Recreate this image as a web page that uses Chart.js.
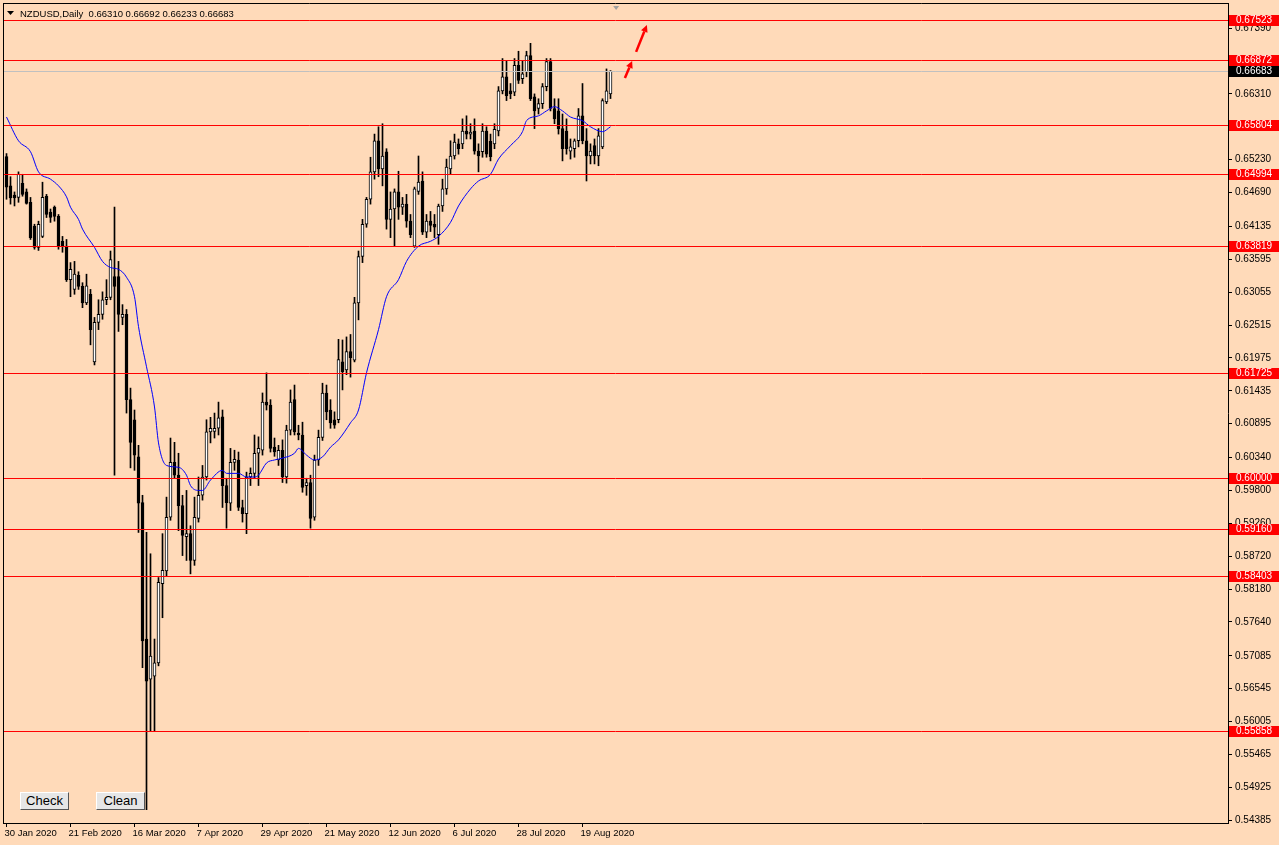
<!DOCTYPE html>
<html>
<head>
<meta charset="utf-8">
<script src="https://cdn.jsdelivr.net/npm/chart.js@4.4.1/dist/chart.umd.min.js"></script>
<style>
html, body { margin: 0; padding: 0; background: #ffdab9; }
#wrap { position: relative; width: 1279px; height: 845px; overflow: hidden; }
canvas { display: block; }
.btn { position: absolute; top: 792px; width: 47px; height: 16px; background: #e6e6e6;
  border: 1px solid; border-color: #ffffff #555555 #555555 #ffffff;
  font: 13px "Liberation Sans", Arial, sans-serif; color: #000; text-align: center; line-height: 16px; }
</style>
</head>
<body>
<div id="wrap">
  <canvas id="chart" width="1279" height="845"></canvas>
  <div class="btn" style="left:20px">Check</div>
  <div class="btn" style="left:96px">Clean</div>
</div>
<script>
// NZDUSD daily candles, 30 Jan 2020 .. end of Aug 2020
const opens = [0.6528,0.6480,0.6465,0.6461,0.6484,0.6470,0.6453,0.6414,0.6379,0.6397,
  0.6463,0.6437,0.6445,0.6430,0.6389,0.6381,0.6326,0.6310,0.6333,0.6315,
  0.6288,0.6302,0.6191,0.6256,0.6269,0.6293,0.6297,0.6331,0.6331,0.6264,
  0.6269,0.6129,0.6096,0.6035,0.5960,0.5736,0.5670,0.5675,0.5697,0.5827,
  0.5848,0.5936,0.6026,0.6005,0.5955,0.5904,0.5909,0.5865,0.5934,0.5972,
  0.6002,0.6076,0.6077,0.6082,0.6101,0.5988,0.5959,0.6026,0.6030,0.5952,
  0.5942,0.6002,0.6008,0.6041,0.6046,0.6125,0.6120,0.6051,0.6030,0.6046,
  0.6002,0.6079,0.6129,0.6074,0.6071,0.5988,0.5993,0.5936,0.6030,0.6067,
  0.6140,0.6112,0.6096,0.6096,0.6191,0.6178,0.6208,0.6194,0.6288,0.6364,
  0.6417,0.6458,0.6503,0.6554,0.6508,0.6536,0.6425,0.6442,0.6470,0.6445,
  0.6450,0.6422,0.6381,0.6471,0.6488,0.6404,0.6422,0.6417,0.6400,0.6447,
  0.6475,0.6508,0.6529,0.6549,0.6549,0.6570,0.6565,0.6570,0.6537,0.6536,
  0.6570,0.6553,0.6549,0.6570,0.6636,0.6659,0.6636,0.6634,0.6678,0.6656,
  0.6667,0.6694,0.6626,0.6607,0.6615,0.6643,0.6684,0.6607,0.6603,0.6574,
  0.6570,0.6537,0.6541,0.6554,0.6595,0.6554,0.6529,0.6546,0.6529,0.6544,
  0.6618,0.66310];
const highs = [0.6533,0.6495,0.6470,0.6503,0.6499,0.6475,0.6461,0.6417,0.6422,0.6486,
  0.6466,0.6442,0.6447,0.6433,0.6397,0.6392,0.6354,0.6356,0.6339,0.6321,
  0.6335,0.6310,0.6264,0.6293,0.6306,0.6326,0.6373,0.6445,0.6356,0.6285,
  0.6277,0.6148,0.6112,0.6054,0.5972,0.5911,0.5876,0.5736,0.5837,0.5909,
  0.5969,0.6066,0.6059,0.6041,0.5972,0.5980,0.5922,0.5969,0.6002,0.6021,
  0.6096,0.6100,0.6107,0.6125,0.6112,0.6000,0.6049,0.6046,0.6043,0.5964,
  0.6010,0.6017,0.6071,0.6068,0.6140,0.6173,0.6129,0.6066,0.6054,0.6063,
  0.6087,0.6145,0.6153,0.6087,0.6092,0.6000,0.6005,0.6038,0.6079,0.6156,
  0.6153,0.6129,0.6109,0.6228,0.6227,0.6232,0.6236,0.6297,0.6373,0.6425,
  0.6461,0.6527,0.6565,0.6577,0.6582,0.6541,0.6470,0.6475,0.6504,0.6461,
  0.6466,0.6433,0.6478,0.6529,0.6503,0.6433,0.6438,0.6433,0.6450,0.6491,
  0.6524,0.6554,0.6565,0.6557,0.6590,0.6595,0.6582,0.6590,0.6549,0.6582,
  0.6577,0.6565,0.6582,0.6643,0.6689,0.6686,0.6648,0.6689,0.6701,0.6686,
  0.6701,0.6714,0.6631,0.6623,0.6648,0.6689,0.6689,0.6623,0.6623,0.6598,
  0.6590,0.6557,0.6557,0.6607,0.6648,0.6574,0.6549,0.6557,0.6574,0.6623,
  0.6672,0.66692];
const lows = [0.6458,0.6450,0.6447,0.6453,0.6463,0.6450,0.6392,0.6376,0.6374,0.6395,
  0.6428,0.6420,0.6422,0.6376,0.6371,0.6323,0.6298,0.6302,0.6310,0.6280,
  0.6285,0.6219,0.6186,0.6244,0.6261,0.6285,0.6293,0.6005,0.6241,0.6252,
  0.6107,0.6017,0.6013,0.5911,0.5689,0.5456,0.5585,0.5585,0.5692,0.5771,
  0.5840,0.5931,0.6000,0.5914,0.5873,0.5865,0.5843,0.5857,0.5928,0.5964,
  0.5997,0.6058,0.6066,0.6071,0.5952,0.5918,0.5947,0.6013,0.5947,0.5928,
  0.5909,0.5988,0.6000,0.5988,0.6038,0.6112,0.6043,0.6036,0.6021,0.5993,
  0.5992,0.6071,0.6071,0.6063,0.5977,0.5972,0.5918,0.5931,0.6021,0.6062,
  0.6096,0.6082,0.6082,0.6091,0.6145,0.6170,0.6166,0.6191,0.6260,0.6354,
  0.6412,0.6450,0.6491,0.6495,0.6480,0.6409,0.6395,0.6381,0.6425,0.6433,
  0.6412,0.6395,0.6379,0.6466,0.6400,0.6395,0.6405,0.6395,0.6384,0.6438,
  0.6466,0.6499,0.6524,0.6532,0.6541,0.6557,0.6557,0.6532,0.6503,0.6527,
  0.6527,0.6521,0.6541,0.6562,0.6631,0.6620,0.6623,0.6628,0.6648,0.6648,
  0.6659,0.6620,0.6574,0.6598,0.6607,0.6636,0.6603,0.6582,0.6565,0.6521,
  0.6532,0.6524,0.6527,0.6544,0.6549,0.6488,0.6516,0.6516,0.6513,0.6541,
  0.6615,0.66233];
const closes = [0.6478,0.6460,0.6460,0.6499,0.6466,0.6451,0.6395,0.6379,0.6417,0.6461,
  0.6433,0.6428,0.6430,0.6381,0.6381,0.6326,0.6343,0.6335,0.6315,0.6288,
  0.6316,0.6244,0.6256,0.6269,0.6293,0.6297,0.6359,0.6315,0.6269,0.6269,
  0.6129,0.6059,0.6038,0.5959,0.5733,0.5667,0.5708,0.5697,0.5829,0.5849,
  0.5936,0.6026,0.6005,0.5955,0.5906,0.5909,0.5865,0.5936,0.5972,0.6002,
  0.6076,0.6082,0.6082,0.6099,0.5988,0.5960,0.6026,0.6031,0.5952,0.5942,
  0.6002,0.6008,0.6041,0.6049,0.6125,0.6120,0.6049,0.6043,0.6046,0.6002,
  0.6079,0.6125,0.6076,0.6071,0.5985,0.5993,0.5934,0.6030,0.6067,0.6140,
  0.6109,0.6091,0.6087,0.6195,0.6175,0.6208,0.6198,0.6288,0.6364,0.6417,
  0.6458,0.6503,0.6554,0.6508,0.6529,0.6425,0.6442,0.6470,0.6445,0.6450,
  0.6422,0.6400,0.6475,0.6486,0.6404,0.6422,0.6415,0.6412,0.6447,0.6475,
  0.6511,0.6529,0.6552,0.6541,0.6570,0.6565,0.6568,0.6537,0.6529,0.6570,
  0.6532,0.6528,0.6573,0.6636,0.6659,0.6628,0.6631,0.6678,0.6653,0.6664,
  0.6694,0.6623,0.6603,0.6615,0.6643,0.6684,0.6607,0.6590,0.6574,0.6541,
  0.6541,0.6544,0.6554,0.6595,0.6554,0.6529,0.6537,0.6529,0.6562,0.6620,
  0.6636,0.66683];

// moving average, sampled off the chart at bar indexes
const maIdx = [0,3,6,8,11,13,15,16,18,19,22,24,26,28,30,32,33,35,37,38,
  40,43,45,46,48,49,51,54,55,58,60,62,63,65,67,69,72,73,75,77,
  79,81,83,86,88,90,93,95,98,100,103,106,108,111,113,116,118,121,123,126,
  129,130,133,135,137,139,141,144,146,149,151];
const maVal = [0.6593,0.6554,0.6536,0.6503,0.6491,0.6480,0.6462,0.6445,0.6425,0.6409,
  0.6379,0.6356,0.6346,0.6343,0.6330,0.6298,0.6249,0.6183,0.6117,0.6058,
  0.6021,0.6018,0.6005,0.5988,0.5980,0.5980,0.5997,0.6013,0.6008,0.6008,
  0.6002,0.6002,0.6005,0.6025,0.6030,0.6033,0.6041,0.6049,0.6038,0.6030,
  0.6035,0.6051,0.6063,0.6091,0.6112,0.6173,0.6244,0.6298,0.6326,0.6356,
  0.6381,0.6389,0.6397,0.6420,0.6447,0.6475,0.6488,0.6499,0.6524,0.6546,
  0.6569,0.6587,0.6595,0.6603,0.6610,0.6603,0.6593,0.6587,0.6577,0.6569,0.6577];

// horizontal levels drawn on the chart
const levels = [0.67523,0.66872,0.65804,0.64994,0.63819,0.61725,0.60000,0.59160,0.58403,0.55858];

// axis ticks
const yTicks = [0.67390,0.66850,0.66310,0.65770,0.65230,0.64690,0.64135,0.63595,0.63055,0.62515,
  0.61975,0.61435,0.60895,0.60340,0.59800,0.59260,0.58720,0.58180,0.57640,0.57085,
  0.56545,0.56005,0.55465,0.54925,0.54385];
const xTickIdx = [0,16,32,48,64,80,96,112,128,144];
const xTickLabels = ['30 Jan 2020','21 Feb 2020','16 Mar 2020','7 Apr 2020','29 Apr 2020',
  '21 May 2020','12 Jun 2020','6 Jul 2020','28 Jul 2020','19 Aug 2020'];

// arrows (bar index, price)
const arrowFrom = [[154.6,0.6657],[157.4,0.6700]];
const arrowTo = [[156.4,0.6685],[160.1,0.6744]];

const BG = '#ffdab9';
const FONT = '"Liberation Sans", Arial, sans-serif';

const idx = opens.map((_, i) => i);
const wickData = idx.map(i => ({x: i, y: [lows[i], highs[i]]}));
const bodyData = idx.map(i => ({x: i, y: [Math.min(opens[i], closes[i]), Math.max(opens[i], closes[i])]}));
const bodyColors = idx.map(i => closes[i] >= opens[i] ? '#ffffff' : '#000000');
const maData = maIdx.map((x, k) => ({x: x, y: maVal[k]}));

const last = opens.length - 1;

const overlay = {
  id: 'overlay',
  beforeDraw(chart) {
    const ctx = chart.ctx;
    ctx.save();
    ctx.fillStyle = BG;
    ctx.fillRect(0, 0, chart.width, chart.height);
    ctx.restore();
  },
  afterDatasetsDraw(chart) {
    const ctx = chart.ctx;
    const a = chart.chartArea;
    const ys = chart.scales.y, xs = chart.scales.x;
    const py = v => Math.round(ys.getPixelForValue(v)) + 0.5;
    ctx.save();
    ctx.lineWidth = 1;

    // bid line
    ctx.strokeStyle = '#c0c0c0';
    ctx.beginPath();
    ctx.moveTo(a.left, py(closes[last]));
    ctx.lineTo(a.right, py(closes[last]));
    ctx.stroke();

    // red levels
    ctx.strokeStyle = '#ff0000';
    levels.forEach(v => {
      ctx.beginPath();
      ctx.moveTo(a.left, py(v));
      ctx.lineTo(a.right, py(v));
      ctx.stroke();
    });

    // frame (left, top)
    ctx.strokeStyle = '#000';
    ctx.beginPath();
    ctx.moveTo(a.left + 0.5, a.top);
    ctx.lineTo(a.left + 0.5, a.bottom);
    ctx.moveTo(a.left, a.top + 0.5);
    ctx.lineTo(a.right, a.top + 0.5);
    ctx.stroke();

    // price labels on the axis
    ctx.font = '10px ' + FONT;
    ctx.textBaseline = 'middle';
    ctx.textAlign = 'left';
    const tag = (v, col) => {
      const y = Math.round(ys.getPixelForValue(v));
      ctx.fillStyle = col;
      ctx.fillRect(a.right + 1, y - 5, chart.width - a.right - 1, 11);
      ctx.fillStyle = '#fff';
      ctx.fillText(v.toFixed(5), a.right + 8, y + 0.5);
    };
    levels.forEach(v => tag(v, '#ff0000'));
    tag(closes[last], '#000000');

    // arrows
    ctx.strokeStyle = '#ff0000';
    ctx.fillStyle = '#ff0000';
    arrowFrom.forEach((f, k) => {
      const x0 = xs.getPixelForValue(f[0]), y0 = ys.getPixelForValue(f[1]);
      const x1 = xs.getPixelForValue(arrowTo[k][0]), y1 = ys.getPixelForValue(arrowTo[k][1]);
      const ang = Math.atan2(y1 - y0, x1 - x0);
      const hl = 7, hw = 3.5;
      const bx = x1 - hl * Math.cos(ang), by = y1 - hl * Math.sin(ang);
      ctx.lineWidth = 2.5;
      ctx.beginPath();
      ctx.moveTo(x0, y0);
      ctx.lineTo(bx, by);
      ctx.stroke();
      ctx.beginPath();
      ctx.moveTo(x1, y1);
      ctx.lineTo(bx + hw * Math.sin(ang), by - hw * Math.cos(ang));
      ctx.lineTo(bx - hw * Math.sin(ang), by + hw * Math.cos(ang));
      ctx.closePath();
      ctx.fill();
    });

    // chart shift marker
    const sx = xs.getPixelForValue(last + 1.4);
    ctx.fillStyle = '#a0a0a0';
    ctx.beginPath();
    ctx.moveTo(sx - 3, a.top + 3);
    ctx.lineTo(sx + 3, a.top + 3);
    ctx.lineTo(sx, a.top + 7);
    ctx.closePath();
    ctx.fill();

    // header
    ctx.fillStyle = '#000';
    ctx.beginPath();
    ctx.moveTo(7, 11);
    ctx.lineTo(14, 11);
    ctx.lineTo(10.5, 15);
    ctx.closePath();
    ctx.fill();
    ctx.font = '9.5px ' + FONT;
    ctx.textBaseline = 'alphabetic';
    ctx.fillText('NZDUSD,Daily  ' + [opens[last], highs[last], lows[last], closes[last]].map(v => v.toFixed(5)).join(' '), 20, 17);
    ctx.restore();
  }
};

new Chart(document.getElementById('chart'), {
  type: 'bar',
  data: {
    datasets: [
      {
        type: 'line', data: maData, borderColor: '#0000ff', borderWidth: 1,
        pointRadius: 0, cubicInterpolationMode: 'monotone', order: 1
      },
      {
        data: bodyData, backgroundColor: bodyColors, borderColor: '#000', borderWidth: 1,
        borderSkipped: false, barThickness: 3, minBarLength: 1, grouped: false, order: 2
      },
      {
        data: wickData, backgroundColor: '#000', borderWidth: 0,
        barThickness: 1, grouped: false, order: 3
      }
    ]
  },
  options: {
    responsive: false,
    animation: false,
    layout: { padding: { left: 3, top: 3, right: 0, bottom: 0 } },
    plugins: { legend: { display: false }, tooltip: { enabled: false } },
    scales: {
      x: {
        type: 'linear', position: 'bottom', min: -0.875, max: 305.375, offset: false,
        afterFit: s => { s.height = 22; s.paddingLeft = 0; s.paddingRight = 0; },
        afterBuildTicks: s => { s.ticks = xTickIdx.map(v => ({value: v})); },
        ticks: {
          autoSkip: false, maxRotation: 0, align: 'start', padding: 1, labelOffset: -2, color: '#000',
          font: { family: FONT, size: 9.5 },
          callback: (v, i) => xTickLabels[i]
        },
        grid: { drawOnChartArea: false, drawTicks: true, tickLength: 4, color: '#000', offset: false },
        border: { color: '#000', width: 1 }
      },
      y: {
        type: 'linear', position: 'right', min: 0.54340, max: 0.67802,
        afterFit: s => { s.width = 51; s.paddingTop = 0; s.paddingBottom = 0; },
        afterBuildTicks: s => { s.ticks = yTicks.map(v => ({value: v})); },
        ticks: {
          color: '#000', padding: 3, font: { family: FONT, size: 10 },
          callback: v => v.toFixed(5)
        },
        grid: { drawOnChartArea: false, drawTicks: true, tickLength: 4, color: '#000' },
        border: { color: '#000', width: 1 }
      }
    }
  },
  plugins: [overlay]
});
</script>
</body>
</html>
